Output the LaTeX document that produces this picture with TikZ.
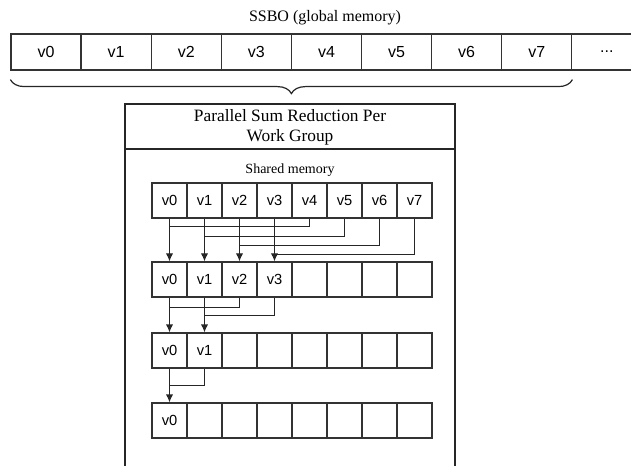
\documentclass[tikz,border=0pt]{standalone}
\usepackage{fontspec}
\setmainfont{Liberation Serif}
\setsansfont{Liberation Sans}
\usetikzlibrary{arrows.meta,decorations.pathreplacing,calc}

\tikzset{
  gcell/.style={draw=black!80, line width=0.9pt, minimum width=52.6pt, minimum height=27pt, inner sep=0pt, font=\sffamily\fontsize{12}{14}\selectfont},
  scell/.style={draw=black!80, line width=0.9pt, minimum width=26.25pt, minimum height=26.25pt, inner sep=0pt, font=\sffamily\fontsize{11}{13}\selectfont},
  fold/.style={draw=black!85, line width=0.9pt},
  push/.style={fold, -{Latex[length=6pt,width=5.5pt]}},
}

\begin{document}
\begin{tikzpicture}[x=0.75pt,y=-0.75pt]
  \useasboundingbox (0,0) rectangle (631,466);
  \begin{scope}
  \clip (0,0) rectangle (631,466);
  % global memory
  \node[font=\fontsize{12}{14}\selectfont] (ssbo) at (325,18) {SSBO (global memory)};
  \foreach \i in {0,...,7} { \node[gcell] (g\i) at (46.05+70.1*\i,52) {v\i}; }
  \node[gcell] (g8) at (46.05+70.1*8,52) {...};
  \draw[fold, decorate, decoration={brace, mirror, amplitude=10.5pt}] ($(g0.south west)+(0,9)$) -- ($(g7.south east)+(0,9)$);
  % work group
  \draw[fold] (125,480) -- (125,104) -- (455,104) -- (455,480);
  \draw[fold] (125,149) -- (455,149);
  \node[align=center, font=\fontsize{13}{15}\selectfont] (wgtitle) at (290,127) {Parallel Sum Reduction Per\\Work Group};
  \node[font=\fontsize{10.5}{12}\selectfont] (shared) at (290,170) {Shared memory};
  \foreach \r/\y/\n in {a/200.5/7,b/279.5/3,c/350.5/1,d/420.5/0} {
    \foreach \i in {0,...,7} { \node[scell] (\r\i) at (169.5+35*\i,\y) {\ifnum\i>\n\else v\i\fi}; }
  }
  % reduction steps
  \foreach \i/\d in {0/8,1/18,2/27,3/36} {
    \pgfmathtruncatemacro\j{\i+4}
    \draw[fold] (a\j.south) -- ++(0,\d) -| (a\i.south);
    \draw[push] (a\i.south) -- (b\i.north);
  }
  \foreach \i/\d in {0/10,1/18} {
    \pgfmathtruncatemacro\j{\i+2}
    \draw[fold] (b\j.south) -- ++(0,\d) -| (b\i.south);
    \draw[push] (b\i.south) -- (c\i.north);
  }
  \draw[fold] (c1.south) -- ++(0,17) -| (c0.south);
  \draw[push] (c0.south) -- (d0.north);
  \end{scope}
\end{tikzpicture}
\end{document}
